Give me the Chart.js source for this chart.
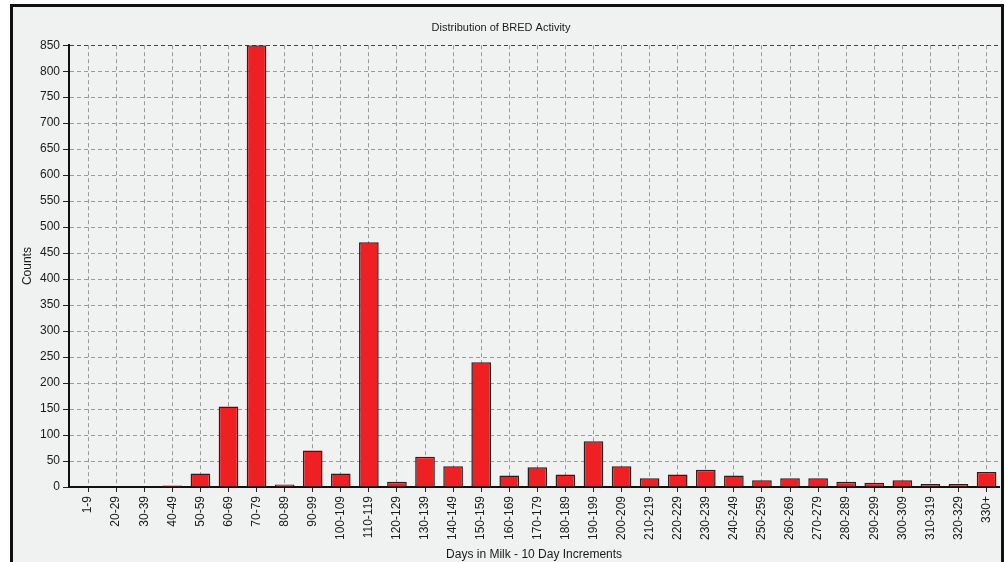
<!DOCTYPE html>
<html>
<head>
<meta charset="utf-8">
<script src="https://cdn.jsdelivr.net/npm/chart.js@4.4.1/dist/chart.umd.min.js"></script>
<style>
  html, body { margin: 0; padding: 0; background: #ffffff; }
  #wrap { width: 1005px; height: 562px; position: relative; }
</style>
</head>
<body>
<div id="wrap"><canvas id="bred-chart" width="1005" height="562"></canvas></div>
<script>
// 数据
const categories = ['1-9', '20-29', '30-39', '40-49', '50-59', '60-69', '70-79', '80-89', '90-99',
    '100-109', '110-119', '120-129', '130-139', '140-149', '150-159', '160-169', '170-179',
    '180-189', '190-199', '200-209', '210-219', '220-229', '230-239', '240-249', '250-259',
    '260-269', '270-279', '280-289', '290-299', '300-309', '310-319', '320-329', '330+'];
const counts = [0, 0, 0, 3, 26, 155, 850, 5, 70,
    26, 471, 10, 58, 40, 240, 22, 38,
    24, 88, 40, 17, 24, 33, 22, 13,
    17, 17, 10, 8, 13, 6, 6, 29];
const yMax = 850;
const yStep = 50;

const tickFont = { family: 'Liberation Sans, Arial, sans-serif', size: 12 };

// 背景和外框
const framePlugin = {
    id: 'frame',
    beforeDraw(chart) {
        const ctx = chart.ctx;
        ctx.save();
        ctx.fillStyle = '#ffffff';
        ctx.fillRect(0, 0, chart.width, chart.height);
        ctx.fillStyle = '#f0f1f1';
        ctx.fillRect(12, 5, 990, chart.height - 5);
        ctx.strokeStyle = '#111111';
        ctx.lineWidth = 3;
        ctx.beginPath();
        ctx.moveTo(11.5, chart.height);
        ctx.lineTo(11.5, 5.5);
        ctx.lineTo(1002.5, 5.5);
        ctx.lineTo(1002.5, chart.height);
        ctx.stroke();
        ctx.restore();
    }
};

// x 轴用线性刻度, 左边留一点空
const points = counts.map((v, i) => ({ x: i, y: v }));

const ctx = document.getElementById('bred-chart').getContext('2d');
const chart = new Chart(ctx, {
    type: 'bar',
    data: {
        datasets: [{
            label: 'Counts',
            data: points,
            backgroundColor: '#ee2024',
            borderColor: '#222222',
            borderWidth: 1.5,
            borderSkipped: 'bottom',
            categoryPercentage: 1.0,
            barPercentage: 0.7
        }]
    },
    options: {
        responsive: false,
        animation: false,
        layout: { padding: { top: 0, left: 0, right: 3, bottom: 0 } },
        plugins: {
            legend: { display: false },
            tooltip: { enabled: false },
            title: {
                display: true,
                text: 'Distribution of BRED Activity',
                color: '#1a1a1a',
                font: { family: 'Liberation Sans, Arial, sans-serif', size: 11, weight: 'normal' },
                padding: { top: 21, bottom: 11 }
            }
        },
        scales: {
            x: {
                type: 'linear',
                min: -0.68,
                max: 32.45,
                offset: false,
                grid: {
                    offset: false,
                    color: '#9a9a9a',
                    tickColor: '#222222',
                    tickBorderDash: [],
                    tickLength: 5
                },
                border: { display: true, color: '#111111', width: 2, dash: [4, 3] },
                ticks: {
                    stepSize: 1,
                    includeBounds: false,
                    color: '#1a1a1a',
                    font: tickFont,
                    minRotation: 90,
                    maxRotation: 90,
                    autoSkip: false,
                    padding: 4,
                    callback: (v) => categories[v]
                },
                title: {
                    display: true,
                    text: 'Days in Milk - 10 Day Increments',
                    color: '#1a1a1a',
                    font: tickFont,
                    padding: { top: 2, bottom: 0 }
                },
                afterFit(scale) { scale.height = 75; }
            },
            y: {
                min: 0,
                max: yMax,
                grid: {
                    color: (c) => c.tick && c.tick.value === yMax ? '#444444' : '#9a9a9a',
                    tickColor: '#222222',
                    tickBorderDash: [],
                    tickLength: 6
                },
                border: { display: true, color: '#111111', width: 2, dash: [4, 3] },
                ticks: {
                    stepSize: yStep,
                    color: '#1a1a1a',
                    font: tickFont,
                    padding: 3
                },
                title: {
                    display: true,
                    text: 'Counts',
                    color: '#1a1a1a',
                    font: tickFont,
                    padding: { top: 20, bottom: 0 }
                },
                afterFit(scale) { scale.width = 69; }
            }
        }
    },
    plugins: [framePlugin]
});
</script>
</body>
</html>
